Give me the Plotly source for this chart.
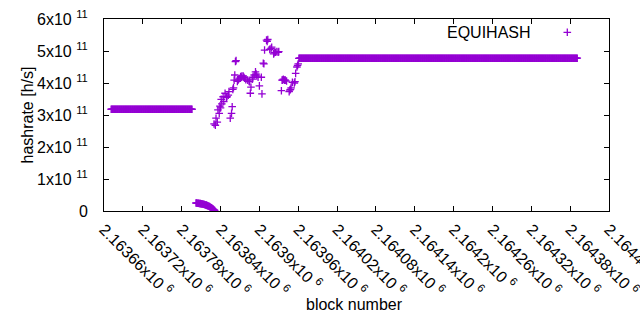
import plotly.graph_objects as go

# ---------------- data ----------------
# plateau before the drop: one point per block, constant estimate
flat1_first_block = 2163671
flat1_last_block = 2163796
flat1_hashrate = 3.18e11

# collapse segment near zero
low_blocks = list(range(2163802, 2163832))
low_hashrate = [0.250e11, 0.248e11, 0.245e11, 0.243e11, 0.240e11, 0.237e11,
                0.233e11, 0.230e11, 0.226e11, 0.222e11, 0.218e11, 0.213e11,
                0.208e11, 0.203e11, 0.197e11, 0.190e11, 0.183e11, 0.175e11,
                0.166e11, 0.157e11, 0.147e11, 0.136e11, 0.124e11, 0.111e11,
                0.097e11, 0.082e11, 0.066e11, 0.050e11, 0.034e11, 0.018e11]

# scattered recovery region
scatter_blocks = [2163830, 2163832, 2163833, 2163835, 2163836, 2163838, 2163839, 2163840, 2163841, 2163842,
                  2163844, 2163845, 2163847, 2163849, 2163850, 2163852, 2163853, 2163855, 2163857, 2163858,
                  2163859, 2163860, 2163861, 2163862, 2163863, 2163864, 2163866, 2163867, 2163868, 2163870,
                  2163871, 2163872, 2163873, 2163875, 2163876, 2163877, 2163879, 2163882, 2163884, 2163885,
                  2163886, 2163887, 2163889, 2163890, 2163892, 2163894, 2163895, 2163896, 2163898, 2163900,
                  2163903, 2163904, 2163906, 2163907, 2163908, 2163911, 2163912, 2163913, 2163916, 2163918,
                  2163919, 2163922, 2163923, 2163925, 2163927, 2163929, 2163930, 2163934, 2163935, 2163936,
                  2163937, 2163939, 2163940, 2163942, 2163946, 2163947, 2163948, 2163949, 2163951, 2163954,
                  2163955, 2163956, 2163958, 2163959, 2163960, 2163961]
scatter_hashrate_e11 = [2.72, 2.68, 2.90, 2.78, 3.16, 3.05, 3.28, 3.22, 3.49, 3.35,
                        3.57, 3.42, 3.68, 3.55, 3.57, 3.62, 3.73, 2.90, 3.05, 3.26,
                        3.80, 3.85, 4.09, 4.25, 4.67, 4.70, 4.05, 4.09, 4.12, 4.15,
                        4.20, 4.18, 4.22, 4.22, 4.18, 4.15, 4.10, 4.09, 4.05, 4.04,
                        3.68, 3.87, 4.12, 4.18, 4.25, 4.35, 4.28, 4.22, 4.18, 3.91,
                        4.18, 3.66, 4.62, 4.60, 5.03, 5.34, 5.30, 5.36, 5.05, 5.08,
                        5.12, 4.91, 4.95, 4.96, 4.98, 4.96, 4.98, 3.76, 4.09, 4.09,
                        4.12, 4.09, 4.09, 4.06, 3.73, 3.78, 3.80, 3.85, 4.02, 4.00,
                        4.04, 4.30, 4.50, 4.55, 4.60, 4.77]

# plateau after recovery
flat2_first_block = 2163962
flat2_last_block = 2164391
flat2_hashrate = 4.775e11

series_name = "EQUIHASH"

x_tickvals = [2163660, 2163720, 2163780, 2163840, 2163900, 2163960, 2164020,
              2164080, 2164140, 2164200, 2164260, 2164320, 2164380, 2164440]
x_ticktext = ["2.16366x10 <sup>6</sup>", "2.16372x10 <sup>6</sup>", "2.16378x10 <sup>6</sup>",
              "2.16384x10 <sup>6</sup>", "2.1639x10 <sup>6</sup>", "2.16396x10 <sup>6</sup>",
              "2.16402x10 <sup>6</sup>", "2.16408x10 <sup>6</sup>", "2.16414x10 <sup>6</sup>",
              "2.1642x10 <sup>6</sup>", "2.16426x10 <sup>6</sup>", "2.16432x10 <sup>6</sup>",
              "2.16438x10 <sup>6</sup>", "2.16444x10 <sup>6</sup>"]
y_tickvals = [0, 1e11, 2e11, 3e11, 4e11, 5e11, 6e11]
y_ticktext = ["0", "1x10 <sup>11</sup>", "2x10 <sup>11</sup>", "3x10 <sup>11</sup>",
              "4x10 <sup>11</sup>", "5x10 <sup>11</sup>", "6x10 <sup>11</sup>"]

# ---------------- assemble ----------------
flat1_blocks = list(range(flat1_first_block, flat1_last_block + 1))
flat2_blocks = list(range(flat2_first_block, flat2_last_block + 1))
xs = (flat1_blocks + low_blocks + scatter_blocks + flat2_blocks)
ys = ([flat1_hashrate] * len(flat1_blocks) + low_hashrate
      + [v * 1e11 for v in scatter_hashrate_e11]
      + [flat2_hashrate] * len(flat2_blocks))

COLOR = "#9400d3"
FONT = "Liberation Sans, Arial, sans-serif"
FS = 16

fig = go.Figure()
fig.add_trace(go.Scatter(
    x=xs, y=ys, mode="markers", name=series_name, showlegend=False,
    marker=dict(symbol="cross-thin", size=5.4, color=COLOR,
                line=dict(color=COLOR, width=1.3)),
    hoverinfo="skip",
))

L, R, T, B = 104, 31, 19, 119
W, H = 640, 330
pw, ph = W - L - R, H - T - B

def px(x):
    return (x - L) / pw

def py(y):
    return (H - B - y) / ph

axis_common = dict(showline=True, linecolor="black", linewidth=1, mirror="allticks",
                   ticks="inside", ticklen=5, tickcolor="black", tickwidth=1,
                   showgrid=False, zeroline=False, ticklabeloverflow="allow",
                   tickfont=dict(family=FONT, size=FS, color="black"))

fig.update_layout(
    width=W, height=H,
    margin=dict(l=L, r=R, t=T, b=B, autoexpand=False),
    paper_bgcolor="white", plot_bgcolor="white",
    font=dict(family=FONT, size=FS, color="black"),
    xaxis=dict(range=[2163660, 2164440], tickmode="array", tickvals=x_tickvals,
               ticktext=x_ticktext, tickangle=45, ticklabelstandoff=2, **axis_common),
    yaxis=dict(range=[0, 6e11], tickmode="array", tickvals=y_tickvals,
               ticktext=y_ticktext, ticklabelstandoff=12, **axis_common),
    showlegend=False,
)

# axis titles
fig.add_annotation(text="hashrate [h/s]", xref="paper", yref="paper",
                   x=px(16), y=py(115), textangle=-90, showarrow=False,
                   font=dict(family=FONT, size=FS, color="black"))
fig.add_annotation(text="block number", xref="paper", yref="paper",
                   x=px(354), y=py(315), showarrow=False,
                   font=dict(family=FONT, size=FS, color="black"))

# legend key (gnuplot style: text then marker)
fig.add_annotation(text=series_name, xref="paper", yref="paper",
                   x=px(533), y=py(32), xanchor="right", yanchor="middle",
                   showarrow=False, font=dict(family=FONT, size=FS, color="black"))
cx, cy, hw = 567.3, 32.3, 3.8
fig.add_shape(type="path", xref="paper", yref="paper",
              path=(f"M {px(cx - hw)},{py(cy)} L {px(cx + hw)},{py(cy)} "
                    f"M {px(cx)},{py(cy - hw)} L {px(cx)},{py(cy + hw)}"),
              line=dict(color=COLOR, width=1.3))

fig.write_html("out.html", config={"displayModeBar": False},
               post_script="document.body.style.margin='0';document.body.style.overflow='hidden';")
